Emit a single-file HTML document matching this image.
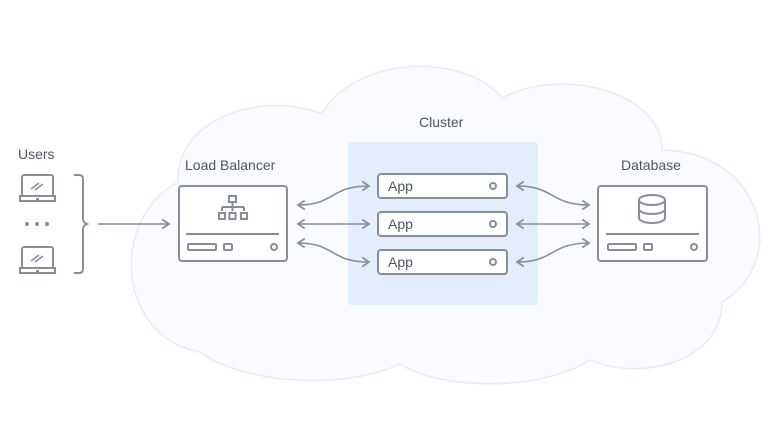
<!DOCTYPE html>
<html><head><meta charset="utf-8"><style>body{margin:0;background:#fff}svg{display:block}text{font-family:"Liberation Sans",sans-serif;fill:#4f5561}</style></head><body>
<svg width="780" height="440" viewBox="0 0 780 440">
<defs><marker id="a" viewBox="0 0 10 10" refX="8" refY="5" markerWidth="7" markerHeight="7" orient="auto-start-reverse"><path d="M2 1 L8 5 L2 9" fill="none" stroke="#8a909c" stroke-width="1.6"/></marker></defs>
<path d="M200 352 C118 338 108 220 178 182 C176 118 262 90 322 114 C352 58 462 50 502 98 C562 66 662 92 662 150 C764 152 790 262 722 302 C722 362 640 382 590 360 C540 392 440 390 400 364 C340 392 240 382 200 352 Z" fill="#f9fbfe" stroke="#e6ecf4" stroke-width="1.5"/>
<rect x="348" y="142" width="190" height="163" rx="3" fill="#e3edfb"/>
<g fill="none" stroke="#878d99" stroke-width="2">
<rect x="179" y="186" width="108" height="75" rx="3" fill="#fff"/>
<line x1="186" y1="234" x2="279" y2="234"/>
<rect x="188" y="244" width="28" height="6" rx="1"/><rect x="224" y="244" width="8" height="6" rx="1"/><circle cx="274" cy="247" r="3"/>
<rect x="229" y="196" width="7" height="6"/><path d="M232.5 202v5 M222 207h22 M222 207v4 M232.5 207v4 M244 207v4"/>
<rect x="219" y="213" width="6" height="6"/><rect x="229.5" y="213" width="6" height="6"/><rect x="241" y="213" width="6" height="6"/>
<rect x="598" y="186" width="109" height="75" rx="3" fill="#fff"/>
<line x1="606" y1="234" x2="699" y2="234"/>
<rect x="608" y="244" width="28" height="6" rx="1"/><rect x="644" y="244" width="8" height="6" rx="1"/><circle cx="694" cy="247" r="3"/>
<path d="M639 200 a13 5 0 0 1 26 0 v18 a13 5 0 0 1 -26 0 Z M639 200 a13 5 0 0 0 26 0 M639 209 a13 5 0 0 0 26 0"/>
<rect x="378" y="174" width="129" height="24" rx="3" fill="#fff"/><circle cx="493" cy="186" r="3"/>
<rect x="378" y="212" width="129" height="24" rx="3" fill="#fff"/><circle cx="493" cy="224" r="3"/>
<rect x="378" y="250" width="129" height="24" rx="3" fill="#fff"/><circle cx="493" cy="262" r="3"/>
<rect x="22" y="175" width="31" height="21" rx="2"/><path d="M20 196h35v5h-35z M36 199h3"/><path d="M31 189l8-6 M35 190l8-6" stroke-width="1.5"/>
<rect x="22" y="247" width="31" height="21" rx="2"/><path d="M20 268h35v5h-35z M36 271h3"/><path d="M31 261l8-6 M35 262l8-6" stroke-width="1.5"/>
<path d="M74 175 h5 q4 0 4 4 v40 q0 3 4 5 q-4 2 -4 5 v40 q0 4 -4 4 h-5"/>
</g>
<g fill="#878d99"><circle cx="27" cy="224" r="2"/><circle cx="37" cy="224" r="2"/><circle cx="47" cy="224" r="2"/></g>
<g fill="none" stroke="#878d99" stroke-width="1.6" marker-end="url(#a)">
<path d="M98 224 H169"/>
<path d="M298 205 C335 205 330 186 369 186" marker-start="url(#a)"/>
<path d="M298 224 H369" marker-start="url(#a)"/>
<path d="M298 243 C335 243 330 262 369 262" marker-start="url(#a)"/>
<path d="M517 186 C555 186 550 205 589 205" marker-start="url(#a)"/>
<path d="M517 224 H589" marker-start="url(#a)"/>
<path d="M517 262 C555 262 550 243 589 243" marker-start="url(#a)"/>
</g>
<text x="18" y="159" font-size="14">Users</text>
<text x="185" y="170" font-size="14">Load Balancer</text>
<text x="419" y="127" font-size="14">Cluster</text>
<text x="621" y="170" font-size="14">Database</text>
<text x="388" y="191" font-size="14">App</text>
<text x="388" y="229" font-size="14">App</text>
<text x="388" y="267" font-size="14">App</text>
</svg>
</body></html>
